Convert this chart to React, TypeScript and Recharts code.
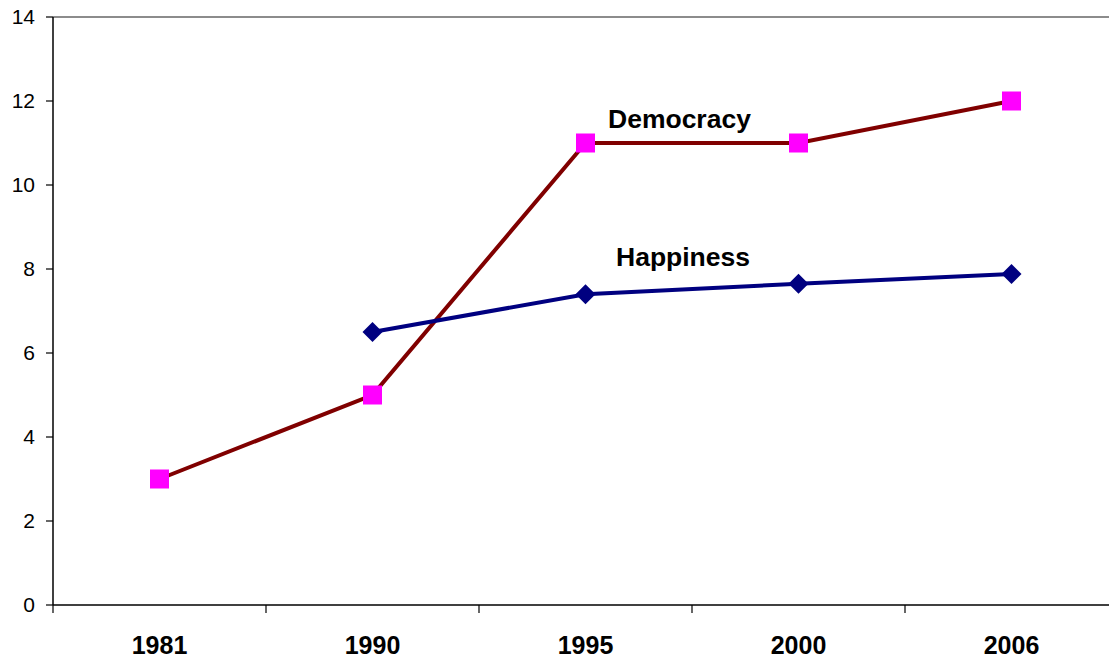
import React from "react";
import { LineChart, Line, XAxis, YAxis, ReferenceLine } from "recharts";

const years = ["1981", "1990", "1995", "2000", "2006"];
const democracy = [3, 5, 11, 11, 12];
const happiness = [null, 6.5, 7.4, 7.65, 7.88];
const yTicks = [0, 2, 4, 6, 8, 10, 12, 14];

const data = years.map((year, i) => ({
  year,
  democracy: democracy[i],
  happiness: happiness[i],
}));

const FONT = '"Liberation Sans", Arial, sans-serif';

function XTick(props: any) {
  const { x, y, payload, index } = props;
  const half = payload && payload.offset ? payload.offset : 106.5;
  return (
    <g>
      <line x1={x - half} y1={y} x2={x - half} y2={y + 8} stroke="#000" strokeWidth={1.2} />
      {index === years.length - 1 && (
        <line x1={x + half} y1={y} x2={x + half} y2={y + 8} stroke="#000" strokeWidth={1.2} />
      )}
      <text x={x} y={y + 49} textAnchor="middle" fontFamily={FONT} fontSize={25} fontWeight="bold" fill="#000">
        {payload.value}
      </text>
    </g>
  );
}

function Square(props: any) {
  const { cx, cy, index } = props;
  if (cx == null || cy == null) return <g key={index} />;
  return <rect key={index} x={cx - 9.5} y={cy - 9.5} width={19} height={19} fill="#FF00FF" />;
}

function Diamond(props: any) {
  const { cx, cy, index } = props;
  if (cx == null || cy == null) return <g key={index} />;
  const r = 10;
  return (
    <polygon
      key={index}
      points={`${cx},${cy - r} ${cx + r},${cy} ${cx},${cy + r} ${cx - r},${cy}`}
      fill="#000080"
    />
  );
}

export default function App() {
  return (
    <div
      style={{
        position: "fixed",
        top: 0,
        left: 0,
        width: 1109,
        height: 663,
        overflow: "hidden",
        background: "#fff",
      }}
    >
      <LineChart
        width={1130}
        height={664}
        data={data}
        margin={{ top: 17, right: 12, left: 0, bottom: 0 }}
      >
        <ReferenceLine y={14} stroke="#8c8c8c" strokeWidth={2} />
        <XAxis
          dataKey="year"
          scale="band"
          height={59}
          tickSize={0}
          tickMargin={0}
          tickLine={false}
          axisLine={{ stroke: "#000", strokeWidth: 1.5 }}
          tick={<XTick />}
          interval={0}
        />
        <YAxis
          width={53}
          domain={[0, 14]}
          ticks={yTicks}
          tickSize={7}
          tickMargin={11}
          axisLine={{ stroke: "#000", strokeWidth: 1.5 }}
          tickLine={{ stroke: "#000", strokeWidth: 1.2 }}
          tick={{ fill: "#000", fontSize: 21, fontFamily: FONT }}
        />
        <Line
          dataKey="democracy"
          stroke="#800000"
          strokeWidth={4}
          dot={Square}
          activeDot={false}
          isAnimationActive={false}
        />
        <Line
          dataKey="happiness"
          stroke="#000080"
          strokeWidth={4}
          dot={Diamond}
          activeDot={false}
          isAnimationActive={false}
        />
      </LineChart>
      <svg
        width={1109}
        height={663}
        style={{ position: "absolute", top: 0, left: 0, pointerEvents: "none" }}
      >
        <text x={608} y={128} fontFamily={FONT} fontSize={26.5} fontWeight="bold" fill="#000">
          Democracy
        </text>
        <text x={616} y={266} fontFamily={FONT} fontSize={26.5} fontWeight="bold" fill="#000">
          Happiness
        </text>
      </svg>
    </div>
  );
}
